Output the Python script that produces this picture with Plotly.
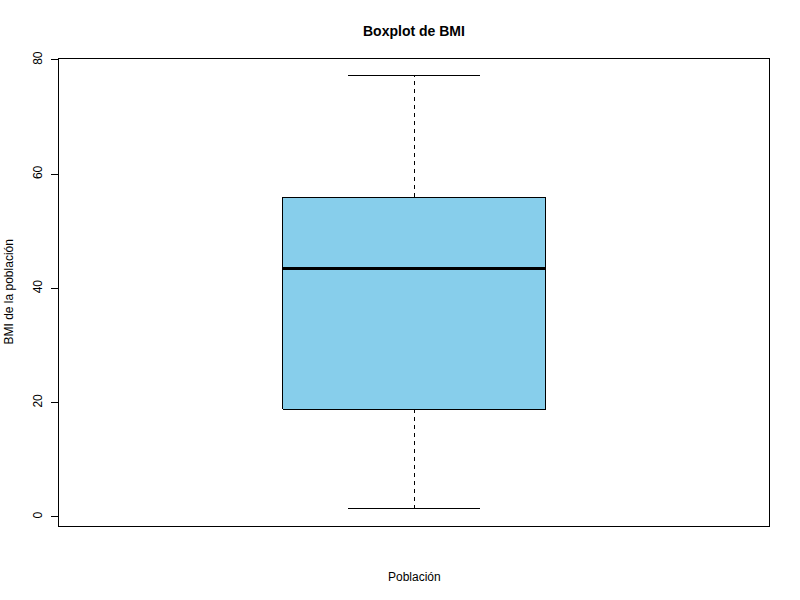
import plotly.graph_objects as go

# Data
categories = ["Población"]
lower_whisker = [1.4]
q1_values = [18.9]
median_values = [43.5]
q3_values = [56.0]
upper_whisker = [77.2]
y_ticks = [0, 20, 40, 60, 80]

BOX_HALF = 0.2
CAP_HALF = 0.1
FONT = "Liberation Sans, Arial, sans-serif"

fig = go.Figure()
for i, cat in enumerate(categories):
    c = i + 1
    lo, q1, med, q3, hi = lower_whisker[i], q1_values[i], median_values[i], q3_values[i], upper_whisker[i]
    # whiskers (dashed)
    fig.add_trace(go.Scatter(x=[c, c, None, c, c], y=[q3, hi, None, q1, lo], mode="lines",
                             line=dict(color="black", width=1, dash="4px,4px"),
                             hoverinfo="skip", showlegend=False))
    # caps
    fig.add_trace(go.Scatter(x=[c - CAP_HALF, c + CAP_HALF, None, c - CAP_HALF, c + CAP_HALF],
                             y=[hi, hi, None, lo, lo], mode="lines",
                             line=dict(color="black", width=1), hoverinfo="skip", showlegend=False))
    # box
    fig.add_trace(go.Scatter(x=[c - BOX_HALF, c + BOX_HALF, c + BOX_HALF, c - BOX_HALF, c - BOX_HALF],
                             y=[q1, q1, q3, q3, q1], mode="lines", fill="toself",
                             fillcolor="#87CEEB", line=dict(color="black", width=1),
                             hoverinfo="skip", showlegend=False))
    # median
    fig.add_trace(go.Scatter(x=[c - BOX_HALF, c + BOX_HALF], y=[med, med], mode="lines",
                             line=dict(color="black", width=3), hoverinfo="skip", showlegend=False))

n = len(categories)
fig.update_layout(
    width=800, height=600,
    margin=dict(l=59, r=31, t=59, b=74),
    paper_bgcolor="white", plot_bgcolor="white",
    font=dict(family=FONT, size=12, color="black"),
    xaxis=dict(range=[0.46, n + 0.54], showticklabels=False, ticks="", showgrid=False,
               zeroline=False, showline=True, mirror=True, linecolor="black", linewidth=1),
    yaxis=dict(range=[-1.58, 80.17], tickvals=y_ticks, ticktext=[str(v) for v in y_ticks],
               tickangle=-90, ticks="outside", ticklen=7, tickcolor="black", tickwidth=1,
               ticklabelstandoff=4,
               showgrid=False, zeroline=False, showline=True, mirror=True,
               linecolor="black", linewidth=1, tickfont=dict(size=12)),
    annotations=[
        dict(text="<b>Boxplot de BMI</b>", xref="paper", yref="paper", x=0.5, y=1,
             yshift=28, xanchor="center", yanchor="middle", showarrow=False,
             font=dict(size=14, family=FONT)),
        dict(text=categories[0], xref="paper", yref="paper", x=0.5, y=0, yshift=-51,
             xanchor="center", yanchor="middle", showarrow=False, font=dict(size=12)),
        dict(text="BMI de la población", xref="paper", yref="paper", x=0, y=0.5, xshift=-51,
             textangle=-90, xanchor="center", yanchor="middle", showarrow=False,
             font=dict(size=12)),
    ],
)

post = """
var fix = function(){
  document.querySelectorAll('.scatterlayer path.js-line').forEach(function(p){
    p.style.shapeRendering = 'crispEdges';
  });
};
fix();
var gd = document.getElementById('{plot_id}');
if (gd && gd.on) { gd.on('plotly_afterplot', fix); }
"""
fig.write_html("out.html", post_script=post)
